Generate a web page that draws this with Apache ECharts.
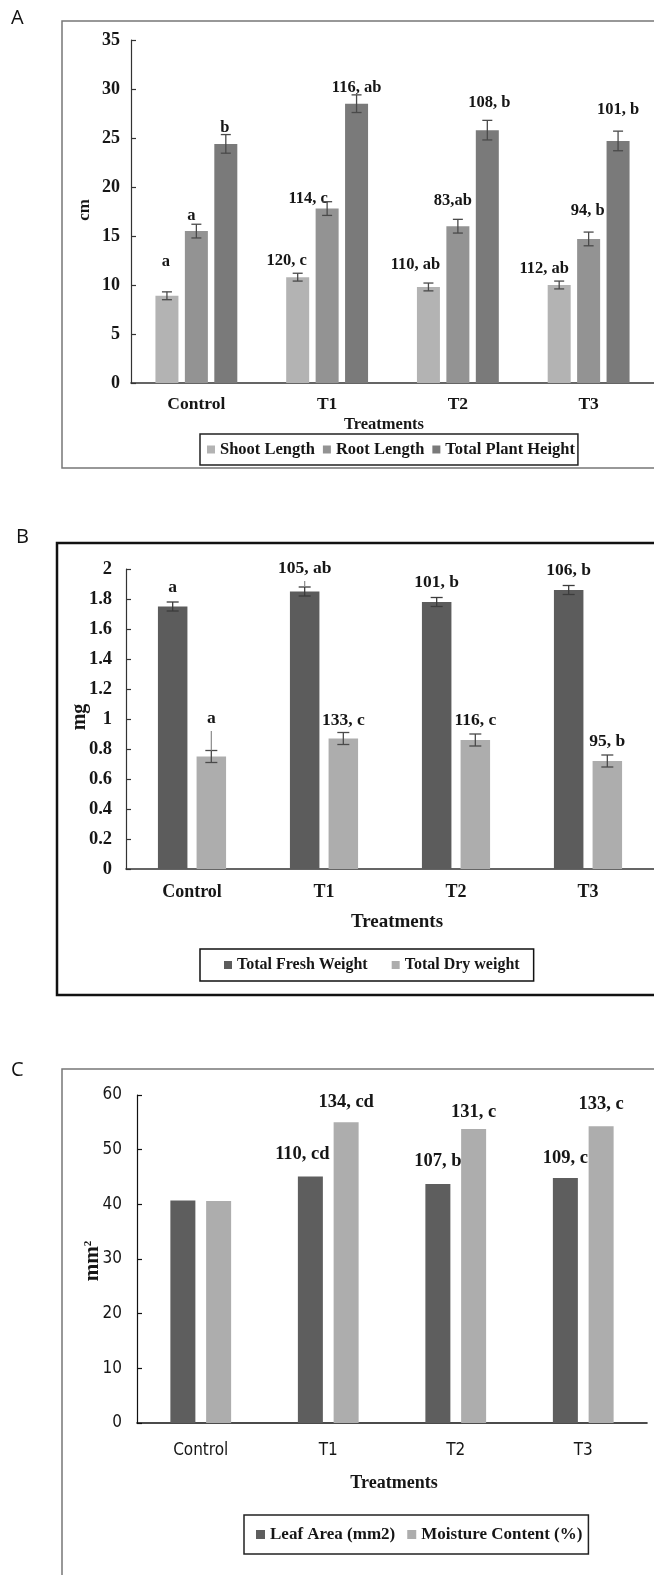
<!DOCTYPE html>
<html>
<head>
<meta charset="utf-8">
<script src="https://cdn.jsdelivr.net/npm/echarts@6/dist/echarts.min.js"></script>
<style>
  html, body { margin: 0; padding: 0; background: #ffffff; }
  #chart { width: 654px; height: 1575px; }
</style>
</head>
<body>
<div id="chart"></div>
<script>
// ---------------- data ----------------
const treatments = ['Control', 'T1', 'T2', 'T3'];

// Panel A: seedling lengths (cm)
const cmRange = [0, 35, 5];
const shootLength = [8.9, 10.8, 9.8, 10.0];
const shootErr = [0.4, 0.4, 0.4, 0.4];
const shootTags = ['a', '120, c', '110, ab', '112, ab'];
const rootLength = [15.5, 17.8, 16.0, 14.7];
const rootErr = [0.7, 0.7, 0.7, 0.7];
const rootTags = ['a', '114, c', '83,ab', '94, b'];
const plantHeight = [24.4, 28.5, 25.8, 24.7];
const heightErr = [0.95, 0.9, 1.0, 1.0];
const heightTags = ['b', '116, ab', '108, b', '101, b'];

// Panel B: biomass (mg)
const mgRange = [0, 2, 0.2];
const freshWeight = [1.75, 1.85, 1.78, 1.86];
const freshErr = [0.03, 0.03, 0.03, 0.03];
const freshWhisker = [null, 1.92, null, null];
const freshTags = ['a', '105, ab', '101, b', '106, b'];
const dryWeight = [0.75, 0.87, 0.86, 0.72];
const dryErr = [0.04, 0.04, 0.04, 0.04];
const dryWhisker = [0.92, null, null, null];
const dryTags = ['a', '133, c', '116, c', '95, b'];

// Panel C: leaf area (mm2) and moisture content (%)
const areaRange = [0, 60, 10];
const leafArea = [40.7, 45.1, 43.7, 44.8];
const leafTags = ['', '110, cd', '107, b', '109, c'];
const moisture = [40.6, 55.0, 53.8, 54.3];
const moistureTags = ['', '134, cd', '131, c', '133, c'];

// ---------------- label placement: [dx, lift above bar top] ----------------
const shootTagPos = [[-1, 34], [-11, 16], [-13, 22], [-15, 16]];
const rootTagPos = [[-5, 15], [-19, 10], [-5, 25], [-1, 28]];
const heightTagPos = [[-1, 16], [0, 16], [2, 27], [0, 31]];
const freshTagPos = [[0, 19], [0, 23], [0, 19], [0, 19]];
const dryTagPos = [[0, 38], [0, 18], [0, 19], [0, 19]];
const leafTagPos = [[0, 20], [-8, 22], [0, 23], [0, 20]];
const moistureTagPos = [[0, 20], [0, 20], [0, 16], [0, 22]];

// ---------------- styling helpers ----------------
const SERIF = '"Liberation Serif", "Times New Roman", serif';
const NARROW = '"Liberation Sans Narrow", "DejaVu Sans Condensed", Roboto, sans-serif';
const INK = '#161616';

function serifBold(size) {
  return { fontFamily: SERIF, fontWeight: 'bold', fontSize: size, color: INK };
}

function barSeries(name, grid, values, tags, tagPos, color, barW, gap, fontSize) {
  return {
    type: 'bar',
    name: name,
    xAxisIndex: grid,
    yAxisIndex: grid,
    barWidth: barW,
    barGap: gap,
    itemStyle: { color: color },
    emphasis: { disabled: true },
    label: {
      show: true,
      position: 'top',
      formatter: p => tags[p.dataIndex],
      ...serifBold(fontSize)
    },
    data: values.map((v, i) => ({
      value: v,
      label: { distance: tagPos[i][1] - fontSize / 2, offset: [tagPos[i][0], 0] }
    })),
    z: 2
  };
}

// Error bars drawn through the axis scales, shifted to sit on their bar
function errorSeries(grid, slot, count, barW, gapRatio, values, errs, whisker, capW, color) {
  const data = values.map((v, i) => [i, v - errs[i], v + errs[i], whisker[i] == null ? NaN : whisker[i]]);
  return {
    type: 'custom',
    xAxisIndex: grid,
    yAxisIndex: grid,
    silent: true,
    z: 5,
    encode: { x: 0, y: [1, 2] },
    data: data,
    renderItem(params, api) {
      const shift = (slot - (count - 1) / 2) * barW * (1 + gapRatio);
      const lo = api.coord([api.value(0), api.value(1)]);
      const hi = api.coord([api.value(0), api.value(2)]);
      const x = lo[0] + shift;
      const st = { stroke: color, lineWidth: 1.3 };
      const children = [
        { type: 'line', shape: { x1: x, y1: lo[1], x2: x, y2: hi[1] }, style: st },
        { type: 'line', shape: { x1: x - capW / 2, y1: lo[1], x2: x + capW / 2, y2: lo[1] }, style: st },
        { type: 'line', shape: { x1: x - capW / 2, y1: hi[1], x2: x + capW / 2, y2: hi[1] }, style: st }
      ];
      const w = api.value(3);
      if (w != null && !isNaN(w)) {
        const top = api.coord([api.value(0), w]);
        children.push({ type: 'line', shape: { x1: x, y1: hi[1], x2: x, y2: top[1] },
          style: { stroke: '#8a8a8a', lineWidth: 1.2 } });
      }
      return { type: 'group', children: children };
    }
  };
}

function catAxis(grid, lineColor, labelMargin, labelStyle) {
  return {
    type: 'category',
    gridIndex: grid,
    data: treatments,
    axisTick: { show: false },
    axisLine: { show: true, lineStyle: { color: lineColor, width: 1.6 } },
    axisLabel: { margin: labelMargin, ...labelStyle }
  };
}

function valAxis(grid, range, lineColor, labelMargin, labelStyle) {
  return {
    type: 'value',
    gridIndex: grid,
    min: range[0],
    max: range[1],
    interval: range[2],
    splitLine: { show: false },
    axisLine: { show: true, lineStyle: { color: lineColor, width: 1.2 } },
    axisTick: { show: true, inside: true, length: 5, lineStyle: { color: lineColor, width: 1.2 } },
    axisLabel: { margin: labelMargin, ...labelStyle }
  };
}

function frame(x, y, w, h, color, width) {
  return { type: 'rect', silent: true, shape: { x: x, y: y, width: w, height: h },
    style: { fill: 'none', stroke: color, lineWidth: width }, z: 0 };
}

function caption(text, x, y, style, rotate) {
  return { type: 'text', silent: true, x: x, y: y, rotation: rotate ? Math.PI / 2 : 0,
    style: Object.assign({ text: text, align: 'center', verticalAlign: 'middle', fill: INK }, style), z: 10 };
}

function panelLetter(text, x, y) {
  return { type: 'text', silent: true, x: x, y: y,
    style: { text: text, fontFamily: '"Open Sans", sans-serif', fontSize: 20, fill: '#111',
      align: 'left', verticalAlign: 'top' } };
}

// ---------------- chart ----------------
const chart = echarts.init(document.getElementById('chart'), null, { renderer: 'canvas' });

const option = {
  animation: false,
  backgroundColor: '#ffffff',
  grid: [
    { left: 131, top: 40, width: 532, height: 343 },
    { left: 126, top: 569, width: 544, height: 300 },
    { left: 137, top: 1095, width: 510, height: 328 }
  ],
  xAxis: [
    catAxis(0, '#333333', 12, serifBold(17.5)),
    catAxis(1, '#333333', 14, serifBold(18)),
    catAxis(2, '#111111', 19, { fontFamily: NARROW, fontSize: 17, color: INK })
  ],
  yAxis: [
    valAxis(0, cmRange, '#333333', 11, serifBold(18)),
    valAxis(1, mgRange, '#333333', 14, serifBold(18.5)),
    valAxis(2, areaRange, '#111111', 15, { fontFamily: NARROW, fontSize: 17, color: INK })
  ],
  legend: [
    {
      data: ['Shoot Length', 'Root Length', 'Total Plant Height'],
      left: 200, top: 434, orient: 'horizontal', icon: 'rect',
      itemWidth: 8, itemHeight: 8, itemGap: 8, padding: [7, 3, 7, 7],
      borderColor: '#222222', borderWidth: 1.5, selectedMode: false,
      textStyle: serifBold(16.5)
    },
    {
      data: ['Total Fresh Weight', 'Total Dry weight'],
      left: 200, top: 949, orient: 'horizontal', icon: 'rect',
      itemWidth: 8, itemHeight: 8, itemGap: 24, padding: [8, 14, 8, 24],
      borderColor: '#111111', borderWidth: 1.5, selectedMode: false,
      textStyle: serifBold(16)
    },
    {
      data: ['Leaf Area (mm2)', 'Moisture Content (%)'],
      left: 244, top: 1515, orient: 'horizontal', icon: 'rect',
      itemWidth: 9, itemHeight: 9, itemGap: 12, padding: [11, 6, 11, 12],
      borderColor: '#222222', borderWidth: 1.5, selectedMode: false,
      textStyle: serifBold(17)
    }
  ],
  series: [
    barSeries('Shoot Length', 0, shootLength, shootTags, shootTagPos, '#b3b3b3', 23, '28%', 16.5),
    barSeries('Root Length', 0, rootLength, rootTags, rootTagPos, '#939393', 23, '28%', 16.5),
    barSeries('Total Plant Height', 0, plantHeight, heightTags, heightTagPos, '#7a7a7a', 23, '28%', 16.5),
    errorSeries(0, 0, 3, 23, 0.28, shootLength, shootErr, [null, null, null, null], 10, '#4a4a4a'),
    errorSeries(0, 1, 3, 23, 0.28, rootLength, rootErr, [null, null, null, null], 10, '#4a4a4a'),
    errorSeries(0, 2, 3, 23, 0.28, plantHeight, heightErr, [null, null, null, null], 10, '#4a4a4a'),

    barSeries('Total Fresh Weight', 1, freshWeight, freshTags, freshTagPos, '#5c5c5c', 29.5, '31%', 17.5),
    barSeries('Total Dry weight', 1, dryWeight, dryTags, dryTagPos, '#adadad', 29.5, '31%', 17.5),
    errorSeries(1, 0, 2, 29.5, 0.31, freshWeight, freshErr, freshWhisker, 12, '#3c3c3c'),
    errorSeries(1, 1, 2, 29.5, 0.31, dryWeight, dryErr, dryWhisker, 12, '#4a4a4a'),

    barSeries('Leaf Area (mm2)', 2, leafArea, leafTags, leafTagPos, '#5e5e5e', 25, '43%', 18.5),
    barSeries('Moisture Content (%)', 2, moisture, moistureTags, moistureTagPos, '#adadad', 25, '43%', 18.5)
  ],
  graphic: [
    frame(62, 21, 700, 447, '#777777', 1.5),
    frame(57, 543, 700, 452, '#111111', 2.5),
    frame(62, 1069, 700, 700, '#777777', 1.5),
    panelLetter('A', 11, 8),
    panelLetter('B', 16, 527),
    panelLetter('C', 11, 1060),
    caption('cm', 85, 210, { fontFamily: SERIF, fontWeight: 'bold', fontSize: 17 }, true),
    caption('mg', 80, 717, { fontFamily: SERIF, fontWeight: 'bold', fontSize: 20 }, true),
    caption('{m|mm}{s|2}', 93, 1261, {
      rich: {
        m: { fontFamily: SERIF, fontWeight: 'bold', fontSize: 21, fill: INK, verticalAlign: 'bottom' },
        s: { fontFamily: SERIF, fontWeight: 'bold', fontSize: 11, fill: INK, verticalAlign: 'top', padding: [0, 0, 10, 0] }
      }
    }, true),
    caption('Treatments', 384, 425, { fontFamily: SERIF, fontWeight: 'bold', fontSize: 16.5 }),
    caption('Treatments', 397, 922, { fontFamily: SERIF, fontWeight: 'bold', fontSize: 19 }),
    caption('Treatments', 394, 1483, { fontFamily: SERIF, fontWeight: 'bold', fontSize: 18 })
  ]
};

chart.setOption(option);
</script>
</body>
</html>
